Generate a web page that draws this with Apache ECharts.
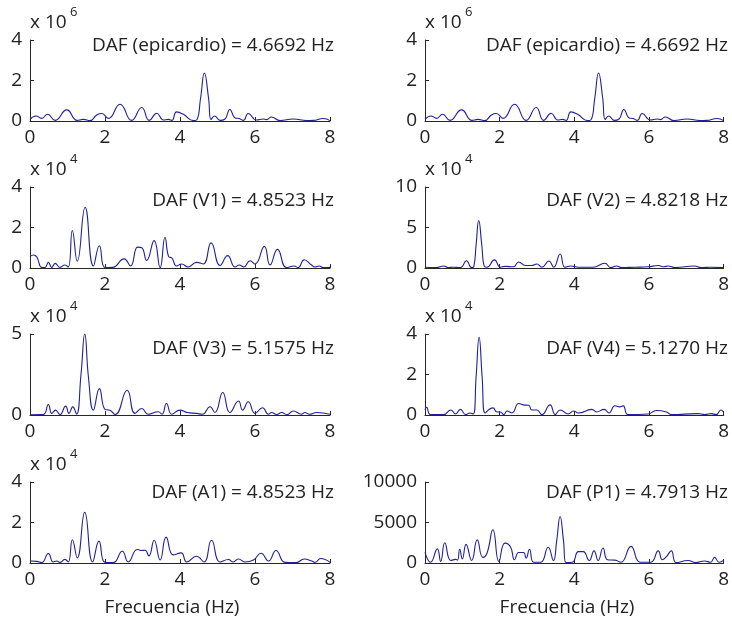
<!DOCTYPE html>
<html><head><meta charset="utf-8">
<script src="https://cdn.jsdelivr.net/npm/echarts@6/dist/echarts.min.js"></script>
<style>html,body{margin:0;padding:0;background:#fff}#c{width:732px;height:620px}</style>
</head><body><div id="c"></div><script>
// Frequencies (Hz) and spectrum values (in the displayed axis units)
var epiF = [0,0.16,0.31,0.47,0.67,0.98,1.26,1.42,1.6,1.78,1.91,2.09,2.4,2.71,2.98,3.18,3.38,3.56,3.69,3.78,3.91,4.09,4.36,4.45,4.55,4.65,4.76,4.83,4.92,5.07,5.2,5.33,5.47,5.58,5.69,5.82,6.04,6.22,6.31,6.44,6.67,7.02,7.38,7.55,7.82,8];
var epiV = [0.08,0.25,0.13,0.33,0.03,0.55,0.03,0.08,0.02,0.3,0.37,0.13,0.83,0.03,0.67,0.03,0.38,0.05,0.08,0.03,0.45,0.33,0.02,0.06,1.15,2.37,1.15,0.08,0.25,0.03,0.1,0.57,0.15,0.12,0.03,0.37,0.05,0.1,0.07,0.2,0.02,0.1,0.02,0.03,0.12,0.02];

var v1F = [0,0.09,0.18,0.31,0.4,0.49,0.58,0.67,0.8,0.93,1.02,1.13,1.26,1.47,1.69,1.85,2.0,2.2,2.51,2.68,2.87,2.98,3.11,3.31,3.47,3.6,3.7,3.78,3.91,4.04,4.22,4.44,4.62,4.83,5.07,5.27,5.47,5.58,5.7,5.87,6.0,6.25,6.4,6.6,6.84,7.04,7.15,7.31,7.51,7.6,7.71,7.82,8];
var v1V = [0.56,0.64,0.55,0.03,0.02,0.28,0.03,0.23,0.03,0.15,0.05,1.85,0.33,3.0,0.1,1.1,0.02,0.03,0.45,0.1,1.03,1.0,0.37,1.35,0.02,1.52,0.55,0.5,0.1,0.2,0.05,0.28,0.2,1.24,0.12,0.61,0.05,0.15,0.05,0.36,0.2,1.07,0.15,0.92,0.02,0.1,0.02,0.41,0.15,0.05,0.1,0.02,0.03];

var v2F = [0,0.3,0.51,0.62,0.75,0.95,1.11,1.25,1.31,1.37,1.44,1.52,1.59,1.66,1.86,2.02,2.15,2.37,2.51,2.69,2.85,3.0,3.13,3.32,3.45,3.62,3.75,3.91,4.11,4.5,4.82,4.98,5.13,5.27,5.62,5.98,6.25,6.4,6.51,6.7,7.22,7.4,7.65,8];
var v2V = [0.1,0.05,0.25,0.05,0.1,0.05,0.9,0.05,0.2,2.9,5.87,2.9,0.2,0.1,1.0,0.1,0.2,0.15,0.75,0.3,0.3,0.5,0.1,0.87,0.1,1.73,0.1,0.25,0.1,0.1,0.58,0.05,0.25,0.05,0.1,0.15,0.3,0.15,0.25,0.05,0.25,0.05,0.1,0.05];

var v3F = [0,0.35,0.49,0.58,0.68,0.8,0.95,1.04,1.14,1.24,1.36,1.46,1.56,1.69,1.85,2.0,2.13,2.27,2.59,2.8,2.98,3.15,3.42,3.52,3.64,3.78,4.0,4.2,4.44,4.6,4.8,4.93,5.14,5.33,5.56,5.67,5.82,6.0,6.2,6.36,6.44,6.58,6.71,6.85,7.02,7.24,7.33,7.45,7.64,8];
var v3V = [0.02,0.03,0.65,0.1,0.3,0.03,0.55,0.1,0.5,0.05,2.5,5.0,2.3,0.3,1.63,0.35,0.3,0.03,1.53,0.1,0.4,0.05,0.2,0.05,0.71,0.05,0.3,0.15,0.1,0.05,0.51,0.15,1.39,0.15,0.86,0.3,0.82,0.1,0.45,0.05,0.15,0.03,0.15,0.02,0.25,0.05,0.15,0.05,0.15,0.05];

var v4F = [0,0.04,0.15,0.5,0.69,0.82,0.95,1.09,1.2,1.29,1.37,1.45,1.53,1.61,1.82,1.93,2.02,2.11,2.2,2.33,2.51,2.63,2.78,2.86,3.0,3.13,3.35,3.49,3.62,3.84,3.98,4.11,4.47,4.6,4.8,4.93,5.09,5.22,5.31,5.44,5.98,6.2,6.47,6.6,7.31,7.5,7.67,7.8,7.93,8];
var v4V = [0.25,0.38,0.02,0.02,0.25,0.05,0.28,0.02,0.1,0.05,1.9,3.84,1.9,0.1,0.35,0.15,0.15,0.02,0.2,0.1,0.57,0.5,0.48,0.25,0.25,0.02,0.5,0.02,0.25,0.05,0.2,0.1,0.28,0.15,0.28,0.1,0.46,0.4,0.45,0.02,0.05,0.22,0.15,0.02,0.07,0.02,0.07,0.02,0.25,0.15];

var a1F = [0,0.18,0.31,0.49,0.62,0.71,0.8,0.93,1.02,1.13,1.26,1.46,1.67,1.84,2.0,2.22,2.46,2.62,2.86,2.96,3.07,3.17,3.31,3.47,3.63,3.82,4.03,4.18,4.44,4.64,4.84,5.07,5.29,5.42,5.56,5.73,5.96,6.16,6.36,6.56,6.8,7.1,7.31,7.51,7.6,7.75,8];
var a1V = [0.1,0.08,0.02,0.47,0.05,0.1,0.03,0.18,0.05,1.15,0.25,2.5,0.05,1.08,0.03,0.02,0.58,0.05,0.67,0.62,0.63,0.35,1.12,0.15,1.28,0.4,0.5,0.05,0.33,0.05,1.12,0.05,0.17,0.05,0.2,0.05,0.15,0.48,0.1,0.62,0.03,0.02,0.2,0.1,0.03,0.22,0.03];

var p1F = [0,0.15,0.33,0.42,0.53,0.69,0.82,0.87,0.93,1.0,1.1,1.25,1.4,1.55,1.66,1.82,1.98,2.14,2.29,2.4,2.51,2.64,2.71,2.8,2.91,3.1,3.3,3.44,3.53,3.62,3.71,3.78,3.95,4.11,4.24,4.4,4.53,4.64,4.77,4.89,5.09,5.25,5.52,5.76,6.05,6.25,6.36,6.47,6.6,6.73,7.05,7.25,7.49,7.65,7.76,7.88,8];
var p1V = [1320,100,1750,200,2500,300,450,350,1700,500,2300,300,2850,700,1200,4100,200,2450,2000,400,1300,1300,600,1700,100,100,1950,300,2800,5750,2800,50,100,1400,1400,300,1500,300,1850,400,350,100,2050,100,100,1500,400,800,1500,50,300,50,250,100,700,100,300];

var labels = ['DAF (epicardio) = 4.6692 Hz','DAF (epicardio) = 4.6692 Hz','DAF (V1) = 4.8523 Hz','DAF (V2) = 4.8218 Hz','DAF (V3) = 5.1575 Hz','DAF (V4) = 5.1270 Hz','DAF (A1) = 4.8523 Hz','DAF (P1) = 4.7913 Hz'];
var yMax = [4,4,4,10,5,4,4,10000];
var yStep = [2,2,2,5,5,2,2,5000];
var exps = ['6','6','4','4','4','4','4',null];
var xTicks = [0,2,4,6,8];
var xLabel = 'Frecuencia (Hz)';

var panels = [[epiF,epiV],[epiF,epiV],[v1F,v1V],[v2F,v2V],[v3F,v3V],[v4F,v4V],[a1F,a1V],[p1F,p1V]];

var FONT = '"Open Sans", "DejaVu Sans", sans-serif';
var TXT = '#222';
var FS = 19;
var lefts = [30, 425], tops = [40, 187, 334, 482], W = 300, H = 81;
var labelDy = [6, 14, 15, 11];

var grids = [], xAxes = [], yAxes = [], series = [], graphics = [];
panels.forEach(function (p, i) {
  var col = i % 2, row = Math.floor(i / 2);
  var L = lefts[col], T = tops[row];
  grids.push({left: L, top: T, width: W, height: H, containLabel: false});
  xAxes.push({
    type: 'value', gridIndex: i, min: 0, max: 8, interval: 2,
    axisLine: {show: true, onZero: false, lineStyle: {color: '#262626', width: 1}},
    axisTick: {show: true, inside: true, length: 4, lineStyle: {color: '#262626'}},
    axisLabel: {fontSize: FS, color: TXT, margin: 7, fontFamily: FONT,
      formatter: function (v) { return xTicks.indexOf(v) >= 0 ? String(v) : ''; }},
    splitLine: {show: false}
  });
  yAxes.push({
    type: 'value', gridIndex: i, min: 0, max: yMax[i], interval: yStep[i],
    axisLine: {show: true, onZero: false, lineStyle: {color: '#262626', width: 1}},
    axisTick: {show: true, inside: true, length: 4, lineStyle: {color: '#262626'}},
    axisLabel: {fontSize: FS, color: TXT, margin: 8, fontFamily: FONT,
      formatter: function (v) { return String(v); }},
    splitLine: {show: false}
  });
  series.push({
    type: 'line', xAxisIndex: i, yAxisIndex: i, showSymbol: false, symbol: 'none',
    smooth: 0.5, clip: true,
    lineStyle: {color: '#20209a', width: 1.1},
    data: p[0].map(function (f, k) { return [f, p[1][k]]; })
  });
  graphics.push({type: 'text', x: L + W + (col ? 3 : 4), y: T + labelDy[row],
    style: {text: labels[i], fill: TXT, font: FS + 'px ' + FONT, textAlign: 'right', textVerticalAlign: 'middle'}});
  if (exps[i]) {
    graphics.push({type: 'text', x: L, y: T - 17,
      style: {text: 'x 10', fill: TXT, font: FS + 'px ' + FONT, textAlign: 'left', textVerticalAlign: 'middle'}});
    graphics.push({type: 'text', x: L + 40, y: T - 28,
      style: {text: exps[i], fill: TXT, font: '13px ' + FONT, textAlign: 'left', textVerticalAlign: 'middle'}});
  }
  if (row === 3) {
    graphics.push({type: 'text', x: L + W / 2 - 8, y: 608,
      style: {text: xLabel, fill: TXT, font: FS + 'px ' + FONT, textAlign: 'center', textVerticalAlign: 'middle'}});
  }
});

var chart = echarts.init(document.getElementById('c'), null, {renderer: 'canvas'});
chart.setOption({
  animation: false, backgroundColor: '#fff',
  grid: grids, xAxis: xAxes, yAxis: yAxes, series: series, graphic: graphics
});
</script></body></html>
